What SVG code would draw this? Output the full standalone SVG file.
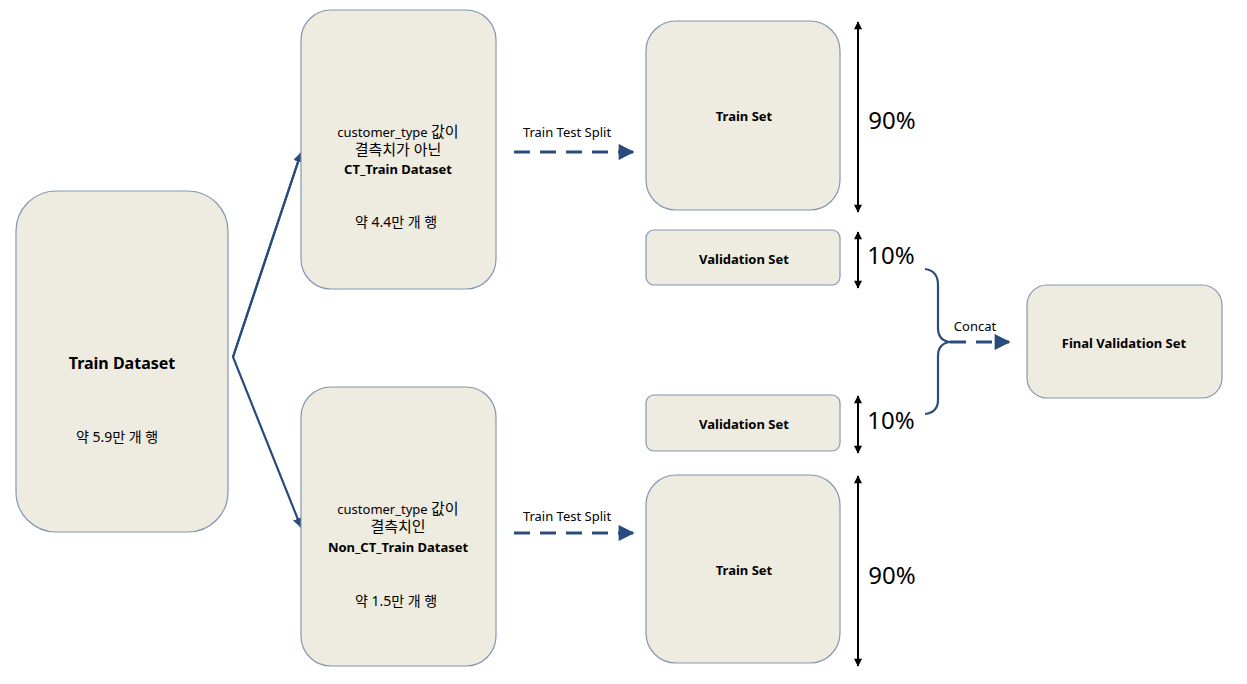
<svg xmlns="http://www.w3.org/2000/svg" width="1247" height="684" viewBox="0 0 1247 684">
<style>
.box{fill:#EEEBE0;stroke:#8497B0;stroke-width:1.2}
.t{font-family:"Noto Sans","Noto Sans CJK KR",sans-serif;fill:#000;text-anchor:middle}
.b{font-weight:bold}
.ln{stroke:#2A4C7D;stroke-width:2.2;fill:none}
.dash{stroke:#2A4C7D;stroke-width:3;fill:none;stroke-dasharray:16,10}
.dim{stroke:#000;stroke-width:2;fill:none}
</style>
<defs>
<marker id="ah" viewBox="0 0 10 10" refX="9" refY="5" markerWidth="10" markerHeight="10" markerUnits="userSpaceOnUse" orient="auto"><path d="M0,0L10,5L0,10z" fill="#2A4C7D"/></marker>
<marker id="ahd" viewBox="0 0 10 10" refX="9" refY="5" markerWidth="18" markerHeight="16" markerUnits="userSpaceOnUse" orient="auto"><path d="M0,0L10,5L0,10z" fill="#2A4C7D"/></marker>
<marker id="blk" viewBox="0 0 10 10" refX="9" refY="5" markerWidth="9" markerHeight="8" markerUnits="userSpaceOnUse" orient="auto-start-reverse"><path d="M0,0L10,5L0,10z" fill="#000"/></marker>
</defs>
<g id="connectors">
<path class="ln" d="M301,153 L233,357 L301,527" marker-end="url(#ah)"/>
<path class="ln" d="M233,357 L301,153" marker-end="url(#ah)"/>
<line class="dash" x1="514" y1="152" x2="633" y2="152" marker-end="url(#ahd)"/>
<text class="t" x="567" y="137" font-size="13">Train Test Split</text>
<line class="dash" x1="514" y1="533" x2="633" y2="533" marker-end="url(#ahd)"/>
<text class="t" x="567" y="521" font-size="13">Train Test Split</text>
<line class="dim" x1="858" y1="22" x2="858" y2="212" marker-start="url(#blk)" marker-end="url(#blk)"/>
<line class="dim" x1="858" y1="232" x2="858" y2="288" marker-start="url(#blk)" marker-end="url(#blk)"/>
<line class="dim" x1="858" y1="396" x2="858" y2="453" marker-start="url(#blk)" marker-end="url(#blk)"/>
<line class="dim" x1="858" y1="476" x2="858" y2="666" marker-start="url(#blk)" marker-end="url(#blk)"/>
<text class="t" x="892" y="129" font-size="24">90%</text>
<text class="t" x="891" y="264" font-size="24">10%</text>
<text class="t" x="891" y="429" font-size="24">10%</text>
<text class="t" x="892" y="584" font-size="24">90%</text>
<path class="ln" stroke-width="3" d="M925,269 C933,270 938,275 938,285 L938,328 C938,336 942,341 950,342 C942,343 938,348 938,356 L938,400 C938,409 933,413 925,414"/>
<line class="dash" stroke-width="2.5" x1="950" y1="342" x2="1009" y2="342" stroke-dasharray="12,9" marker-end="url(#ahd)"/>
<text class="t" x="975" y="331" font-size="13">Concat</text>
</g>
<g id="train-dataset">
<rect class="box" x="16" y="191" width="212" height="341" rx="40"/>
<text class="t b" x="122" y="369" font-size="16">Train Dataset</text>
<text class="t" x="117" y="442" font-size="14">약 5.9만 개 행</text>
</g>
<g id="ct-train">
<rect class="box" x="301" y="10" width="195" height="279" rx="30"/>
<text class="t" x="398" y="137" font-size="13">customer_type <tspan font-size="15">값이</tspan></text>
<text class="t" x="398" y="155" font-size="15">결측치가 아닌</text>
<text class="t b" x="398" y="174" font-size="13">CT_Train Dataset</text>
<text class="t" x="396" y="227" font-size="14">약 4.4만 개 행</text>
</g>
<g id="non-ct-train">
<rect class="box" x="301" y="387" width="195" height="279" rx="30"/>
<text class="t" x="398" y="514" font-size="13">customer_type <tspan font-size="15">값이</tspan></text>
<text class="t" x="398" y="532" font-size="15">결측치인</text>
<text class="t b" x="398" y="552" font-size="13">Non_CT_Train Dataset</text>
<text class="t" x="396" y="606" font-size="14">약 1.5만 개 행</text>
</g>
<g id="train-set-1">
<rect class="box" x="646" y="21" width="194" height="189" rx="30"/>
<text class="t b" x="744" y="121" font-size="13">Train Set</text>
</g>
<g id="val-set-1">
<rect class="box" x="646" y="230" width="194" height="55" rx="8"/>
<text class="t b" x="744" y="264" font-size="13">Validation Set</text>
</g>
<g id="val-set-2">
<rect class="box" x="646" y="395" width="194" height="56" rx="8"/>
<text class="t b" x="744" y="429" font-size="13">Validation Set</text>
</g>
<g id="train-set-2">
<rect class="box" x="646" y="475" width="194" height="188" rx="30"/>
<text class="t b" x="744" y="575" font-size="13">Train Set</text>
</g>
<g id="final-val">
<rect class="box" x="1027" y="285" width="195" height="113" rx="20"/>
<text class="t b" x="1124" y="348" font-size="13">Final Validation Set</text>
</g>
</svg>
